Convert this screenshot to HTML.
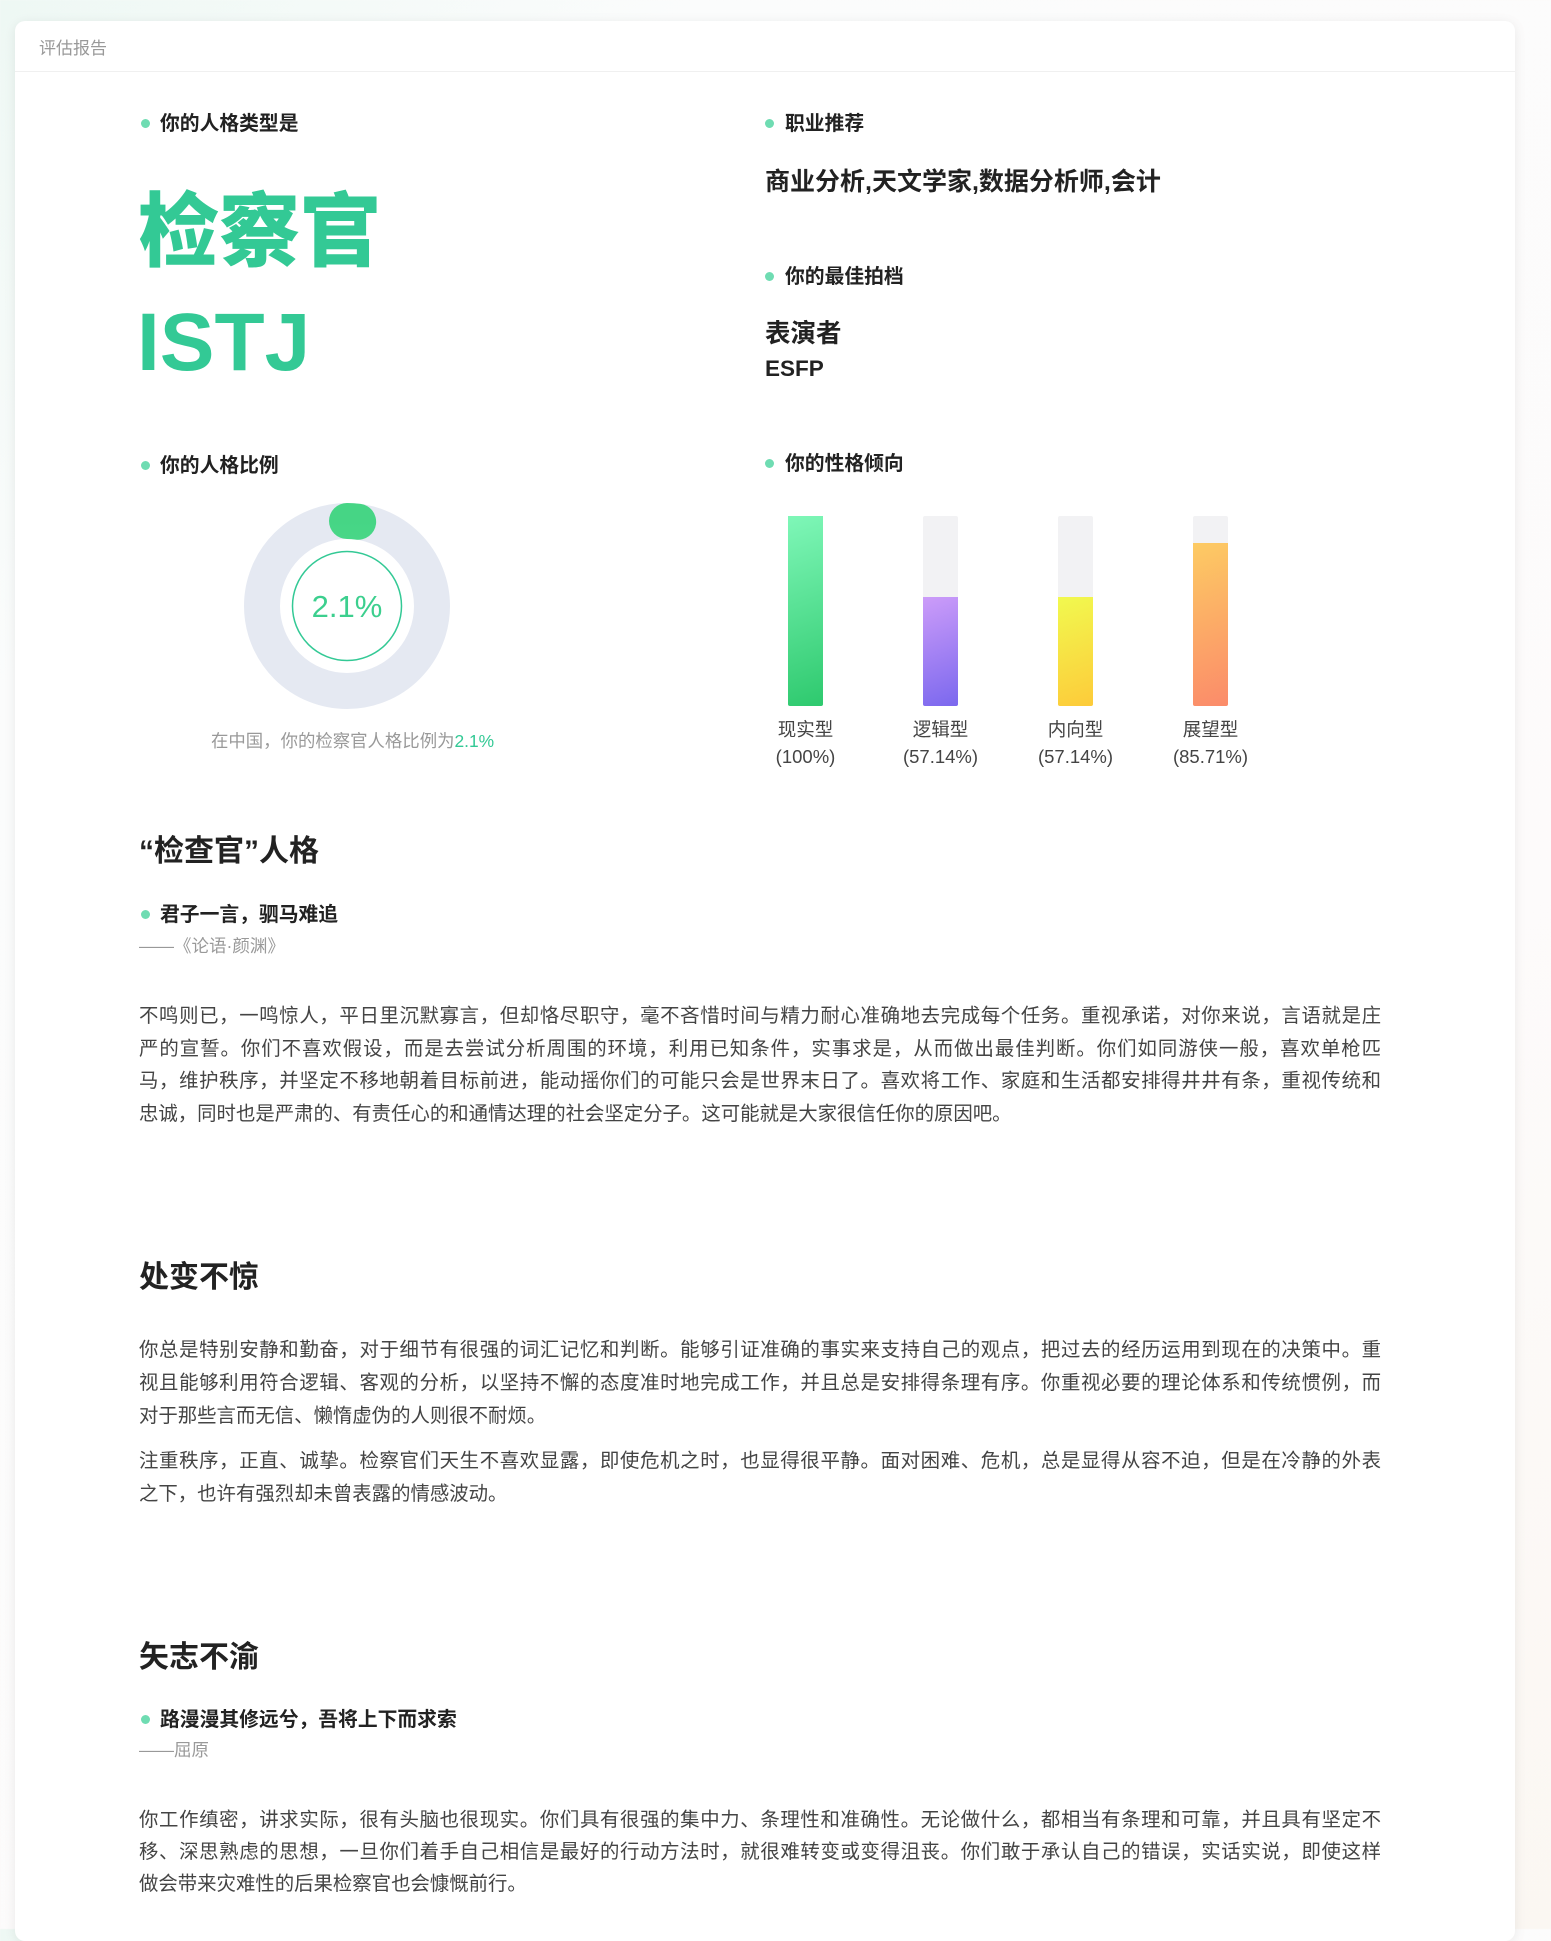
<!DOCTYPE html>
<html><head><meta charset="utf-8">
<style>
*{margin:0;padding:0;box-sizing:border-box}
body{width:1551px;height:1929px;overflow:hidden;background:linear-gradient(135deg,#eef8f4 0%,#fbfcfc 20%,#fdfbfb 70%,#fbf7f2 100%);font-family:"Liberation Sans","Noto Sans CJK SC",sans-serif;color:#333;position:relative}
#card{position:absolute;left:15px;top:21px;width:1500px;height:1920px;background:#fff;border-radius:10px;box-shadow:0 2px 12px rgba(0,0,0,0.08)}
.a{position:absolute;white-space:nowrap}
.hd{font-size:19.8px;font-weight:bold;color:#222;line-height:26px;height:26px}
.dot{position:absolute;width:9px;height:9px;border-radius:50%;background:#6fdcb2}
.pl{position:absolute;left:139px;width:1242px;font-size:19.4px;color:#444;line-height:32px;height:32px;text-align:justify;text-align-last:justify;white-space:nowrap}
.pl.last{text-align-last:left}
.h2{font-size:30px;font-weight:bold;color:#222;line-height:36px}
.src{font-size:17.5px;color:#999;line-height:24px}
</style></head><body>
<div id="card">
</div>
<div class="a" style="left:39px;top:34px;font-size:17px;color:#999">评估报告</div>
<div class="a" style="left:15px;top:71px;width:1500px;height:1px;background:#f0f0f0"></div>

<div class="dot" style="left:141px;top:119px"></div>
<div class="a hd" style="left:160px;top:111px">你的人格类型是</div>
<div class="a" style="left:138px;top:185px;font-size:81px;font-weight:900;color:#33c995;line-height:96px">检察官</div>
<div class="a" style="left:137px;top:298px;font-size:82px;font-weight:bold;color:#33c995;line-height:90px">ISTJ</div>

<div class="dot" style="left:765px;top:119px"></div>
<div class="a hd" style="left:785px;top:111px">职业推荐</div>
<div class="a" style="left:765px;top:166px;font-size:25px;font-weight:bold;color:#222;line-height:32px">商业分析,天文学家,数据分析师,会计</div>
<div class="dot" style="left:765px;top:272px"></div>
<div class="a hd" style="left:785px;top:264px">你的最佳拍档</div>
<div class="a" style="left:765px;top:319px;font-size:25.5px;font-weight:bold;color:#222;line-height:30px">表演者</div>
<div class="a" style="left:765px;top:356px;font-size:22.5px;font-weight:bold;color:#222;line-height:26px">ESFP</div>

<div class="dot" style="left:141px;top:461px"></div>
<div class="a hd" style="left:160px;top:453px">你的人格比例</div>
<svg class="a" id="donut" style="left:237px;top:496px" width="220" height="220" viewBox="0 0 220 220"></svg>
<div class="a" style="left:211px;top:730px;font-size:17.4px;color:#999;line-height:22px">在中国，你的检察官人格比例为<span style="color:#33c995">2.1%</span></div>

<div class="dot" style="left:765px;top:459px"></div>
<div class="a hd" style="left:785px;top:451px">你的性格倾向</div>
<div id="bars"></div>

<div class="a h2" style="left:139px;top:834px">“检查官”人格</div>
<div class="dot" style="left:141px;top:910px"></div>
<div class="a hd" style="left:160px;top:902px">君子一言，驷马难追</div>
<div class="a src" style="left:139px;top:934px">——《论语·颜渊》</div>
<div class="pl" style="top:1000px">不鸣则已，一鸣惊人，平日里沉默寡言，但却恪尽职守，毫不吝惜时间与精力耐心准确地去完成每个任务。重视承诺，对你来说，言语就是庄</div>
<div class="pl" style="top:1033px">严的宣誓。你们不喜欢假设，而是去尝试分析周围的环境，利用已知条件，实事求是，从而做出最佳判断。你们如同游侠一般，喜欢单枪匹</div>
<div class="pl" style="top:1065px">马，维护秩序，并坚定不移地朝着目标前进，能动摇你们的可能只会是世界末日了。喜欢将工作、家庭和生活都安排得井井有条，重视传统和</div>
<div class="pl last" style="top:1098px">忠诚，同时也是严肃的、有责任心的和通情达理的社会坚定分子。这可能就是大家很信任你的原因吧。</div>

<div class="a h2" style="left:139px;top:1260px">处变不惊</div>
<div class="pl" style="top:1334px">你总是特别安静和勤奋，对于细节有很强的词汇记忆和判断。能够引证准确的事实来支持自己的观点，把过去的经历运用到现在的决策中。重</div>
<div class="pl" style="top:1367px">视且能够利用符合逻辑、客观的分析，以坚持不懈的态度准时地完成工作，并且总是安排得条理有序。你重视必要的理论体系和传统惯例，而</div>
<div class="pl last" style="top:1400px">对于那些言而无信、懒惰虚伪的人则很不耐烦。</div>
<div class="pl" style="top:1445px">注重秩序，正直、诚挚。检察官们天生不喜欢显露，即使危机之时，也显得很平静。面对困难、危机，总是显得从容不迫，但是在冷静的外表</div>
<div class="pl last" style="top:1478px">之下，也许有强烈却未曾表露的情感波动。</div>

<div class="a h2" style="left:139px;top:1640px">矢志不渝</div>
<div class="dot" style="left:141px;top:1715px"></div>
<div class="a hd" style="left:160px;top:1707px">路漫漫其修远兮，吾将上下而求索</div>
<div class="a src" style="left:139px;top:1738px">——屈原</div>
<div class="pl" style="top:1804px">你工作缜密，讲求实际，很有头脑也很现实。你们具有很强的集中力、条理性和准确性。无论做什么，都相当有条理和可靠，并且具有坚定不</div>
<div class="pl" style="top:1836px">移、深思熟虑的思想，一旦你们着手自己相信是最好的行动方法时，就很难转变或变得沮丧。你们敢于承认自己的错误，实话实说，即使这样</div>
<div class="pl last" style="top:1868px">做会带来灾难性的后果检察官也会慷慨前行。</div>

<script>
const ratioValue = [2.1];
const barCategories = ["现实型","逻辑型","内向型","展望型"];
const barValues = [100, 57.14, 57.14, 85.71];
const barGradients = [["#7ff7b8","#2ec96e"],["#cc9cf9","#7b68ee"],["#f1f94f","#fdcb3a"],["#fdcb63","#fb8b6a"]];

const NS="http://www.w3.org/2000/svg";
const svg=document.getElementById('donut');
const cx=110, cy=110, r=85;
svg.innerHTML='<defs><linearGradient id="dg" x1="0" y1="0" x2="1" y2="0"><stop offset="0" stop-color="#5be79a"/><stop offset="1" stop-color="#46d585"/></linearGradient></defs>';
const bg=document.createElementNS(NS,'circle');


bg.setAttribute('cx',cx);bg.setAttribute('cy',cy);bg.setAttribute('r',r);
bg.setAttribute('fill','none');bg.setAttribute('stroke','#e5e9f2');bg.setAttribute('stroke-width','36');
svg.appendChild(bg);
const circ=2*Math.PI*r;
const arc=document.createElementNS(NS,'circle');


arc.setAttribute('cx',cx);arc.setAttribute('cy',cy);arc.setAttribute('r',r);
arc.setAttribute('fill','none');arc.setAttribute('stroke','url(#dg)');arc.setAttribute('stroke-width','36');
arc.setAttribute('stroke-linecap','round');
arc.setAttribute('stroke-dasharray',(circ*ratioValue[0]/100)+' '+circ);
arc.setAttribute('transform','rotate(-90 '+cx+' '+cy+')');
svg.appendChild(arc);
const inner=document.createElementNS(NS,'circle');


inner.setAttribute('cx',cx);inner.setAttribute('cy',cy);inner.setAttribute('r',54.5);
inner.setAttribute('fill','none');inner.setAttribute('stroke','#33c995');inner.setAttribute('stroke-width','1.5');
svg.appendChild(inner);
const t=document.createElementNS(NS,'text');


t.setAttribute('x',cx);t.setAttribute('y',cy+11);t.setAttribute('text-anchor','middle');
t.setAttribute('font-size','31');t.setAttribute('fill','#3ccf8e');
t.setAttribute('font-family','Liberation Sans, sans-serif');
t.textContent=ratioValue[0]+'%';
svg.appendChild(t);

const host=document.getElementById('bars');
const x0=788, step=135, bw=35, top0=516, h=190;
const yScale=v=>h*v/100;
barCategories.forEach((c,i)=>{
  const x=x0+i*step;
  const track=document.createElement('div');
  
  
  track.style.cssText=`position:absolute;left:${x}px;top:${top0}px;width:${bw}px;height:${h}px;background:#f2f2f4;border-radius:2px`;
  host.appendChild(track);
  const bh=yScale(barValues[i]);
  const bar=document.createElement('div');
  
  
  bar.style.cssText=`position:absolute;left:${x}px;top:${top0+h-bh}px;width:${bw}px;height:${bh}px;background:linear-gradient(160deg,${barGradients[i][0]},${barGradients[i][1]});border-radius:0 0 2px 2px`;
  host.appendChild(bar);
  const lab=document.createElement('div');
  
  
  lab.style.cssText=`position:absolute;left:${x+bw/2-60}px;top:${top0+h+10}px;width:120px;text-align:center;font-size:18.5px;color:#444;line-height:27px`;
  lab.innerHTML=c+'<br>('+barValues[i]+'%)';
  host.appendChild(lab);
});
</script>
</body></html>
